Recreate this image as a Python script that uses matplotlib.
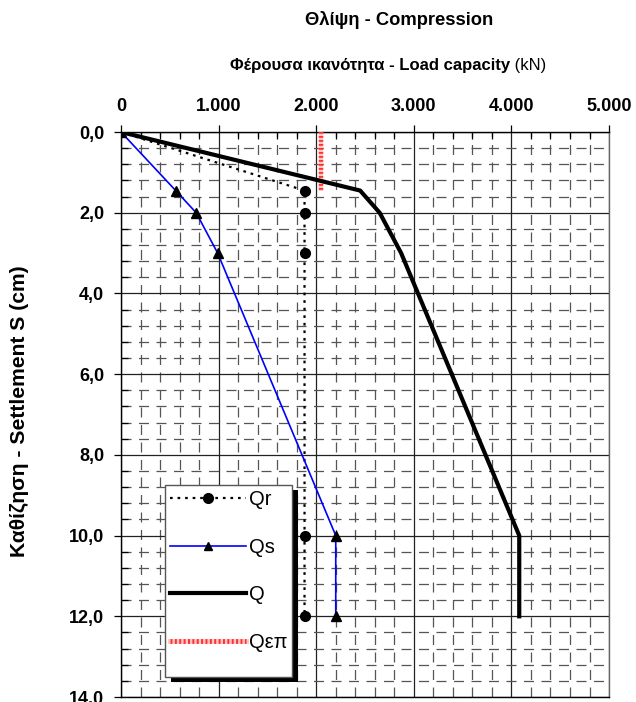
import numpy as np
import matplotlib
matplotlib.use('Agg')
import matplotlib.pyplot as plt
from matplotlib.ticker import MultipleLocator, FuncFormatter
from matplotlib.lines import Line2D
from matplotlib.patches import Rectangle

plt.rcParams['font.family'] = ['Liberation Sans', 'DejaVu Sans']

# load (kN) / settlement (cm)
qr_load = [0, 1880, 1880, 1880, 1880, 1880]
qr_sett = [0, 1.45, 2.0, 3.0, 10.0, 12.0]

qs_load = [0, 560, 770, 990, 2200, 2200]
qs_sett = [0, 1.45, 2.0, 3.0, 10.0, 12.0]

q_load = [0, 2450, 2650, 2870, 4080, 4080]
q_sett = [0, 1.45, 2.0, 3.0, 10.0, 12.0]

qep_load = [2050, 2050]
qep_sett = [0, 1.45]

fig = plt.figure(figsize=(6.36, 7.02), dpi=100)
ax = fig.add_axes([0.1903, 0.0071, 0.7673, 0.8048])

ax.set_xlim(0, 5000)
ax.set_ylim(14, 0)

# grid
ax.xaxis.set_major_locator(MultipleLocator(1000))
ax.xaxis.set_minor_locator(MultipleLocator(200))
ax.yaxis.set_major_locator(MultipleLocator(2))
ax.yaxis.set_minor_locator(MultipleLocator(0.4))
ax.grid(which='major', color='#222222', lw=0.9, ls='-')
ax.grid(which='minor', color='#555555', lw=0.9, ls=(0, (8, 6)))
ax.set_axisbelow(True)

# Qεπ
ax.plot(qep_load, qep_sett, color='#ffc4c4', lw=3.2, solid_capstyle='butt', zorder=3)
ax.plot(qep_load, qep_sett, color='#ff3030', lw=3.2, ls=(0, (0.4, 0.5)), zorder=3)
# Qr
ax.plot(qr_load, qr_sett, color='black', lw=1.6, ls=(0, (1.2, 2.2)),
        marker='o', ms=7, zorder=4)
# Qs
ax.plot(qs_load, qs_sett, color='#0000ff', lw=1.2, zorder=4)
ax.plot(qs_load, qs_sett, ls='none', marker='^', ms=7.5, color='black', zorder=5)
# Q
ax.plot(q_load, q_sett, color='black', lw=3, zorder=4)

# axes / ticks
ax.xaxis.tick_top()
ax.tick_params(which='major', direction='out', length=5, width=0.9, colors='black',
               labelsize=13, pad=7)
ax.tick_params(which='minor', direction='in', length=5, width=0.9)
ax.tick_params(axis='x', which='minor', top=True, bottom=False)
ax.xaxis.set_major_formatter(FuncFormatter(lambda v, p: f'{int(v):,}'.replace(',', '.')))
ax.yaxis.set_major_formatter(FuncFormatter(lambda v, p: f'{v:.1f}'.replace('.', ',')))
for lab in ax.get_xticklabels() + ax.get_yticklabels():
    lab.set_fontweight('bold')
for s in ax.spines.values():
    s.set_color('black')
    s.set_linewidth(1.0)
ax.spines['right'].set_color('#666666')

# titles
fig.text(0.628, 0.9715, 'Θλίψη - Compression', ha='center', va='center',
         fontsize=13.2, fontweight='bold')
t1 = fig.text(0.362, 0.907, 'Φέρουσα ικανότητα - Load capacity', ha='left', va='center',
              fontsize=12, fontweight='bold')
ax.annotate(' (kN)', xy=(1, 0), xycoords=t1, ha='left', va='bottom', fontsize=12)
fig.text(0.031, 0.4145, 'Καθίζηση - Settlement S (cm)', rotation=90, ha='center',
         va='center', fontsize=15.2, fontweight='bold')

# legend box with shadow
bx, by, bw, bh = 0.090, 0.035, 0.260, 0.340
ax.add_patch(Rectangle((bx + 0.012, by - 0.009), bw, bh, transform=ax.transAxes,
                       facecolor='black', edgecolor='none', zorder=6))
ax.add_patch(Rectangle((bx, by), bw, bh, transform=ax.transAxes,
                       facecolor='white', edgecolor='#555555', lw=1.0, zorder=7))
handles = [
    Line2D([], [], color='black', lw=1.6, ls=(0, (1.2, 2.2)), marker='o', ms=7),
    Line2D([], [], color='#0000ff', lw=1.2, marker='^', ms=6, mfc='black', mec='black'),
    Line2D([], [], color='black', lw=3),
    (Line2D([], [], color='#ffc4c4', lw=3.5),
     Line2D([], [], color='#ff3030', lw=3.5, ls=(0, (0.4, 0.5)))),
]
leg = ax.legend(handles, ['Qr', 'Qs', 'Q', 'Qεπ'], loc='upper left',
                bbox_to_anchor=(bx, by + bh), frameon=False, fontsize=14.5,
                handlelength=3.75, handletextpad=0.15, labelspacing=1.42,
                borderpad=0.25, borderaxespad=0.0, markerscale=1.0)
leg.set_zorder(8)

plt.savefig('out.png', dpi=100)
